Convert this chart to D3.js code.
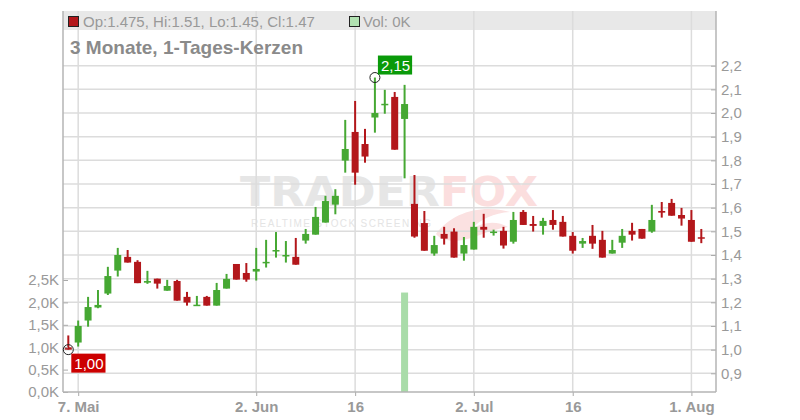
<!DOCTYPE html>
<html><head><meta charset="utf-8">
<script src="https://cdn.jsdelivr.net/npm/d3@7"></script>
<style>
html,body{margin:0;padding:0;background:#fff;}
svg{display:block;font-family:"Liberation Sans",Arial,sans-serif;}
</style></head>
<body>
<svg id="chart" width="800" height="420"></svg>
<script>
const dates = [
 "2025-05-06","2025-05-07","2025-05-08","2025-05-09","2025-05-12","2025-05-13","2025-05-14","2025-05-15","2025-05-16",
 "2025-05-19","2025-05-20","2025-05-21","2025-05-22","2025-05-23","2025-05-26","2025-05-27","2025-05-28","2025-05-29","2025-05-30",
 "2025-06-02","2025-06-03","2025-06-04","2025-06-05","2025-06-06","2025-06-09","2025-06-10","2025-06-11","2025-06-12","2025-06-13",
 "2025-06-16","2025-06-17","2025-06-18","2025-06-19","2025-06-20","2025-06-23","2025-06-24","2025-06-25","2025-06-26","2025-06-27","2025-06-30",
 "2025-07-01","2025-07-02","2025-07-03","2025-07-04","2025-07-07","2025-07-08","2025-07-09","2025-07-10","2025-07-11",
 "2025-07-14","2025-07-15","2025-07-16","2025-07-17","2025-07-18","2025-07-21","2025-07-22","2025-07-23","2025-07-24","2025-07-25",
 "2025-07-28","2025-07-29","2025-07-30","2025-07-31","2025-08-01","2025-08-04"
];
const open  = [1.01,1.03,1.123,1.178,1.237,1.334,1.392,1.371,1.283,1.30,1.249,1.29,1.223,1.186,1.223,1.186,1.258,1.362,1.324,1.33,
 1.368,1.417,1.397,1.392,1.461,1.486,1.537,1.613,1.799,1.92,1.869,1.981,2.035,2.068,1.975,1.616,1.535,1.406,1.489,1.499,
 1.406,1.423,1.519,1.496,1.502,1.456,1.582,1.531,1.523,1.548,1.54,1.481,1.448,1.481,1.464,1.406,1.452,1.502,1.51,1.499,
 1.586,1.62,1.569,1.548,1.475];
const high  = [1.06,1.123,1.223,1.252,1.35,1.43,1.421,1.378,1.333,1.30,1.295,1.295,1.244,1.227,1.227,1.282,1.32,1.362,1.366,1.43,
 1.464,1.497,1.459,1.472,1.51,1.603,1.65,1.678,1.971,2.051,1.933,2.15,2.098,2.089,2.119,1.738,1.586,1.481,1.519,1.513,
 1.476,1.54,1.574,1.507,1.519,1.582,1.59,1.565,1.557,1.59,1.565,1.497,1.472,1.527,1.502,1.464,1.51,1.536,1.51,1.612,
 1.624,1.637,1.599,1.59,1.51];
const low   = [1.00,1.013,1.097,1.175,1.231,1.309,1.368,1.281,1.278,1.258,1.249,1.207,1.186,1.186,1.186,1.186,1.258,1.296,1.287,1.292,
 1.347,1.389,1.368,1.359,1.448,1.486,1.537,1.572,1.748,1.697,1.79,1.917,1.997,1.845,1.724,1.473,1.418,1.397,1.444,1.389,
 1.376,1.423,1.473,1.482,1.427,1.448,1.527,1.499,1.486,1.507,1.478,1.406,1.43,1.426,1.389,1.406,1.43,1.461,1.469,1.494,
 1.558,1.566,1.524,1.456,1.45];
const close = [1.00,1.10,1.18,1.189,1.311,1.40,1.368,1.281,1.29,1.279,1.269,1.207,1.199,1.19,1.186,1.252,1.299,1.296,1.296,1.341,
 1.371,1.421,1.40,1.359,1.489,1.561,1.628,1.65,1.848,1.748,1.816,2.00,2.039,1.845,2.038,1.478,1.418,1.442,1.469,1.389,
 1.442,1.519,1.507,1.499,1.44,1.548,1.527,1.523,1.544,1.527,1.478,1.418,1.459,1.448,1.389,1.421,1.481,1.486,1.469,1.548,
 1.579,1.566,1.554,1.456,1.47];
// volume in thousands
const volume = [0,0,0,0,0,0,0,0,0,0,0,0,0,0,0,0,0,0,0,0,
 0,0,0,0,0,0,0,0,0,0,0,0,0,0,2.22,0,0,0,0,0,
 0,0,0,0,0,0,0,0,0,0,0,0,0,0,0,0,0,0,0,0,
 0,0,0,0,0];
const priceTicks = [0.9,1.0,1.1,1.2,1.3,1.4,1.5,1.6,1.7,1.8,1.9,2.0,2.1,2.2];
const volTicks = [0,0.5,1.0,1.5,2.0,2.5];
const xTickDates = ["2025-05-07","2025-06-02","2025-06-16","2025-07-02","2025-07-16","2025-08-01"];
const xTickLabels = ["7. Mai","2. Jun","16","2. Jul","16","1. Aug"];
const legendText = "Op:1.475, Hi:1.51, Lo:1.45, Cl:1.47";
const volLegendText = "Vol: 0K";
const title = "3 Monate, 1-Tages-Kerzen";

const L = 63, R = 716, T = 11, B = 392;
const RED = "#b3171b", GREEN = "#46a833";

const svg = d3.select("#chart");
const x = d3.scalePoint().domain(dates).range([68.3, 701.3]);
const y = d3.scaleLinear().domain([0.9, 2.2]).range([373.3, 65.7]);
const yv = d3.scaleLinear().domain([0, 2.5]).range([B, 280]);

// watermark
const wm = svg.append("g").attr("class","watermark");
wm.append("text").attr("x", 240).attr("y", 206).attr("textLength", 200).attr("lengthAdjust","spacingAndGlyphs")
  .attr("font-family","DejaVu Sans").attr("font-weight","bold").attr("font-size", 41)
  .attr("fill","#e6e6e6").text("TRADER");
wm.append("text").attr("x", 440).attr("y", 206).attr("textLength", 98).attr("lengthAdjust","spacingAndGlyphs")
  .attr("font-family","DejaVu Sans").attr("font-weight","bold").attr("font-size", 41)
  .attr("fill","#fbdede").text("FOX");
wm.append("text").attr("x", 251).attr("y", 227).attr("textLength", 180).attr("lengthAdjust","spacing")
  .attr("font-size", 10).attr("fill","#e4e4e4").text("REALTIME STOCK SCREENING");
wm.append("path").attr("d","M436,234 C452,212 482,204 510,212 C494,213 480,219 472,229 C484,221 498,221 508,227 C490,229 472,240 456,241 C447,241 440,239 436,234 Z")
  .attr("fill","#fbe1e1");

// band
svg.append("rect").attr("x", L).attr("y", T).attr("width", R - L).attr("height", 19).attr("fill", "#e8e8e8");

// grid
svg.append("g").selectAll("line.h").data(priceTicks).join("line")
  .attr("x1", L).attr("x2", R).attr("y1", d => y(d)).attr("y2", d => y(d))
  .attr("stroke", "#dcdcdc").attr("stroke-width", 1.5);
svg.append("g").selectAll("line.v").data(xTickDates).join("line")
  .attr("x1", d => x(d)).attr("x2", d => x(d)).attr("y1", T).attr("y2", B)
  .attr("stroke", "#dcdcdc").attr("stroke-width", 1.5);

// volume bars
svg.append("g").selectAll("rect").data(dates.map((d,i)=>({d, v: volume[i]})).filter(o => o.v > 0)).join("rect")
  .attr("x", o => x(o.d) - 3.5).attr("width", 7)
  .attr("y", o => yv(o.v)).attr("height", o => yv(0) - yv(o.v))
  .attr("fill", "#a9dca9");

// candles
const data = dates.map((d,i)=>({d, o: open[i], h: high[i], l: low[i], c: close[i]}));
const cg = svg.append("g").selectAll("g").data(data).join("g");
cg.append("line").attr("x1", k => x(k.d)).attr("x2", k => x(k.d))
  .attr("y1", k => y(k.h)).attr("y2", k => y(k.l))
  .attr("stroke", k => k.c >= k.o ? GREEN : RED).attr("stroke-width", 2);
cg.append("rect").attr("x", k => x(k.d) - 3.5).attr("width", 7)
  .attr("y", k => y(Math.max(k.o, k.c)))
  .attr("height", k => Math.max(1.5, Math.abs(y(k.o) - y(k.c))))
  .attr("fill", k => k.c >= k.o ? GREEN : RED);

// axes
const fmtPrice = d => d3.format(".1f")(d).replace(".", ",");
const ax = svg.append("g").attr("transform", `translate(${R},0)`)
  .call(d3.axisRight(y).tickValues(priceTicks).tickFormat(fmtPrice).tickSizeInner(-5).tickSizeOuter(0).tickPadding(5));
const av = svg.append("g").attr("transform", `translate(${L},0)`)
  .call(d3.axisLeft(yv).tickValues(volTicks).tickFormat(d => d3.format(".1f")(d).replace(".", ",") + "K").tickSizeInner(-5).tickSizeOuter(0).tickPadding(4));
const axb = svg.append("g").attr("transform", `translate(0,${B})`)
  .call(d3.axisBottom(x).tickValues(xTickDates).tickFormat((d,i) => xTickLabels[i]).tickSize(4).tickPadding(5));
[ax, av, axb].forEach(g => {
  g.select(".domain").remove();
  g.selectAll(".tick line").attr("stroke", "#aaa");
  g.selectAll("text").attr("fill", "#999").attr("font-size", 15).attr("font-family", "Liberation Sans, Arial, sans-serif");
});
axb.selectAll("text").attr("font-weight", "bold");
// frame lines
svg.append("line").attr("x1", L).attr("x2", L).attr("y1", T).attr("y2", B).attr("stroke", "#b4b4b4").attr("stroke-width", 1.5);
svg.append("line").attr("x1", R).attr("x2", R).attr("y1", T).attr("y2", B).attr("stroke", "#b4b4b4").attr("stroke-width", 1.5);
svg.append("line").attr("x1", L).attr("x2", R).attr("y1", B).attr("y2", B).attr("stroke", "#b4b4b4").attr("stroke-width", 1.5);

// legend
svg.append("rect").attr("x", 68.5).attr("y", 16.5).attr("width", 10).attr("height", 10)
  .attr("fill", RED).attr("stroke", "#222").attr("stroke-width", 1);
svg.append("text").attr("x", 83).attr("y", 26.5).attr("font-size", 15).attr("fill", "#999").text(legendText);
svg.append("rect").attr("x", 349.5).attr("y", 16.5).attr("width", 10).attr("height", 10)
  .attr("fill", "#b2e2b2").attr("stroke", "#222").attr("stroke-width", 1);
svg.append("text").attr("x", 363).attr("y", 26.5).attr("font-size", 15).attr("fill", "#999").text(volLegendText);

// title
svg.append("text").attr("x", 70).attr("y", 54).attr("font-size", 19).attr("font-weight", "bold")
  .attr("fill", "#8a8a8a").text(title);

// high / low markers
const iHigh = d3.maxIndex(high), iLow = d3.minIndex(low);
const markers = [
  {i: iHigh, v: high[iHigh], fill: "#0a9a0a", dy: -22},
  {i: iLow, v: low[iLow], fill: "#cc0000", dy: 4}
];
markers.forEach(m => {
  const cx = x(dates[m.i]), cy = y(m.v);
  svg.append("circle").attr("cx", cx).attr("cy", cy).attr("r", 5)
    .attr("fill", "none").attr("stroke", "#222").attr("stroke-width", 1);
  const label = d3.format(".2f")(m.v).replace(".", ",");
  const g = svg.append("g");
  const t = g.append("text").attr("x", cx + 6).attr("y", cy + m.dy + 15).attr("font-size", 15)
    .attr("fill", "#fff").text(label);
  const bb = t.node().getBBox();
  g.insert("rect", "text").attr("x", bb.x - 3).attr("y", cy + m.dy).attr("width", bb.width + 5).attr("height", 19)
    .attr("fill", m.fill);
});
</script>
</body></html>
